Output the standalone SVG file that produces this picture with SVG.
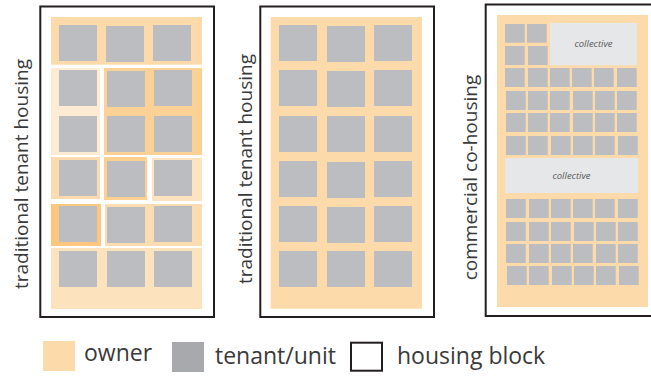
<svg xmlns="http://www.w3.org/2000/svg" width="651" height="376" viewBox="0 0 651 376">
  <style>
    .block { fill: #ffffff; stroke: #231f20; stroke-width: 2; }
    .owner { fill: #fcdaa9; }
    .unit { fill: #bcbdc0; }
    .collective { fill: #e6e7e8; }
    .label { font-family: "Open Sans", "Liberation Sans", sans-serif; font-weight: 400; fill: #3a3a3a; }
    .side { font-size: 19px; text-anchor: middle; }
    .legend { font-size: 23px; }
    .coll-text { font-family: "Open Sans", "Liberation Sans", sans-serif; font-style: italic; font-size: 9.5px; fill: #58595b; text-anchor: middle; }
  </style>

  <!-- Block 1: traditional tenant housing with owner parcels of varying shades -->
  <g id="block-traditional-1">
    <rect class="block" x="40.3" y="6.5" width="173.7" height="310.5"/>
    <rect x="51" y="17" width="151" height="47.7" fill="#fcdaa9"/>
    <rect x="51" y="68" width="49" height="87" fill="#fdebd4"/>
    <rect x="104" y="68" width="98" height="87" fill="#fcd195"/>
    <rect x="51" y="157" width="49" height="42" fill="#fcdbaf"/>
    <rect x="104" y="157" width="43" height="43" fill="#fdd08f"/>
    <rect x="152" y="158" width="50" height="43" fill="#fde3c0"/>
    <rect x="51" y="204" width="50" height="42" fill="#fdc77d"/>
    <rect x="105" y="204" width="97" height="42" fill="#fcdcb1"/>
    <rect x="51" y="248" width="151" height="61" fill="#fce2bd"/>
    <g class="unit">
      <rect x="59" y="25" width="38" height="36"/>
      <rect x="106" y="26" width="38" height="36"/>
      <rect x="153" y="25" width="38" height="36"/>
      <rect x="59" y="70" width="38" height="36"/>
      <rect x="107" y="71" width="38" height="36"/>
      <rect x="154" y="70" width="38" height="36"/>
      <rect x="59" y="116" width="38" height="36"/>
      <rect x="107" y="116" width="38" height="36"/>
      <rect x="154" y="116" width="38" height="36"/>
      <rect x="59" y="160" width="38" height="36"/>
      <rect x="107" y="161" width="38" height="36"/>
      <rect x="154" y="160" width="38" height="36"/>
      <rect x="59" y="206" width="38" height="36"/>
      <rect x="107" y="207" width="38" height="36"/>
      <rect x="154" y="206" width="38" height="36"/>
      <rect x="59" y="251" width="38" height="36"/>
      <rect x="107" y="251" width="38" height="36"/>
      <rect x="154" y="251" width="38" height="36"/>
    </g>
    <text class="label side" transform="translate(28 174) rotate(-90)">traditional tenant housing</text>
  </g>

  <!-- Block 2: traditional tenant housing with a single owner -->
  <g id="block-traditional-2">
    <rect class="block" x="260.3" y="6.5" width="173.7" height="310.5"/>
    <rect class="owner" x="270.7" y="17" width="151.3" height="291.7"/>
    <g class="unit">
      <rect x="279" y="25" width="38" height="36"/>
      <rect x="327" y="26" width="38" height="36"/>
      <rect x="374" y="25" width="38" height="36"/>
      <rect x="279" y="70" width="38" height="36"/>
      <rect x="327" y="71" width="38" height="36"/>
      <rect x="374" y="70" width="38" height="36"/>
      <rect x="279" y="116" width="38" height="36"/>
      <rect x="327" y="116" width="38" height="36"/>
      <rect x="374" y="116" width="38" height="36"/>
      <rect x="279" y="161" width="38" height="36"/>
      <rect x="327" y="162" width="38" height="36"/>
      <rect x="374" y="161" width="38" height="36"/>
      <rect x="279" y="206" width="38" height="36"/>
      <rect x="327" y="207" width="38" height="36"/>
      <rect x="374" y="206" width="38" height="36"/>
      <rect x="279" y="251" width="38" height="36"/>
      <rect x="327" y="251" width="38" height="36"/>
      <rect x="374" y="251" width="38" height="36"/>
    </g>
    <text class="label side" transform="translate(252 169) rotate(-90)">traditional tenant housing</text>
  </g>

  <!-- Block 3: commercial co-housing with small units and shared spaces -->
  <g id="block-cohousing">
    <rect class="block" x="485.7" y="4.5" width="180" height="311.5"/>
    <rect class="owner" x="497" y="15" width="151" height="292"/>
    <rect class="collective" x="550" y="23" width="87" height="42.3"/>
    <text class="coll-text" x="593.5" y="46.5">collective</text>
    <rect class="collective" x="505" y="158" width="133" height="35"/>
    <text class="coll-text" x="571.5" y="179">collective</text>
    <g class="unit">
      <rect x="505" y="24" width="19.7" height="18.7"/>
      <rect x="527" y="24" width="19.7" height="18.7"/>
      <rect x="505" y="46" width="19.7" height="19"/>
      <rect x="528" y="46" width="19.7" height="19"/>

      <rect x="505" y="68" width="19.7" height="19"/>
      <rect x="528" y="68" width="19.7" height="19"/>
      <rect x="550" y="68" width="19.7" height="19"/>
      <rect x="572" y="68" width="19.7" height="19"/>
      <rect x="594" y="68" width="19.7" height="19"/>
      <rect x="617" y="68" width="19.7" height="19"/>

      <rect x="506" y="91" width="19.7" height="19"/>
      <rect x="528" y="91" width="19.7" height="19"/>
      <rect x="550" y="91" width="19.7" height="19"/>
      <rect x="573" y="91" width="19.7" height="19"/>
      <rect x="595" y="91" width="19.7" height="19"/>
      <rect x="617" y="91" width="19.7" height="19"/>

      <rect x="506" y="113" width="19.7" height="19"/>
      <rect x="528" y="113" width="19.7" height="19"/>
      <rect x="550" y="113" width="19.7" height="19"/>
      <rect x="573" y="113" width="19.7" height="19"/>
      <rect x="595" y="113" width="19.7" height="19"/>
      <rect x="617" y="113" width="19.7" height="19"/>

      <rect x="506" y="136" width="19.7" height="19"/>
      <rect x="528" y="136" width="19.7" height="19"/>
      <rect x="551" y="136" width="19.7" height="19"/>
      <rect x="573" y="136" width="19.7" height="19"/>
      <rect x="595" y="136" width="19.7" height="19"/>
      <rect x="618" y="136" width="19.7" height="19"/>

      <rect x="506" y="199" width="19.7" height="19"/>
      <rect x="529" y="199" width="19.7" height="19"/>
      <rect x="551" y="199" width="19.7" height="19"/>
      <rect x="573" y="199" width="19.7" height="19"/>
      <rect x="595" y="199" width="19.7" height="19"/>
      <rect x="618" y="199" width="19.7" height="19"/>

      <rect x="506" y="222" width="19.7" height="19"/>
      <rect x="529" y="222" width="19.7" height="19"/>
      <rect x="551" y="222" width="19.7" height="19"/>
      <rect x="574" y="222" width="19.7" height="19"/>
      <rect x="596" y="222" width="19.7" height="19"/>
      <rect x="618" y="222" width="19.7" height="19"/>

      <rect x="506" y="244" width="19.7" height="19"/>
      <rect x="529" y="244" width="19.7" height="19"/>
      <rect x="551" y="244" width="19.7" height="19"/>
      <rect x="573" y="244" width="19.7" height="19"/>
      <rect x="596" y="244" width="19.7" height="19"/>
      <rect x="618" y="244" width="19.7" height="19"/>

      <rect x="507" y="266" width="19.7" height="19"/>
      <rect x="529" y="266" width="19.7" height="19"/>
      <rect x="552" y="266" width="19.7" height="19"/>
      <rect x="574" y="266" width="19.7" height="19"/>
      <rect x="596" y="266" width="19.7" height="19"/>
      <rect x="619" y="266" width="19.7" height="19"/>
    </g>
    <text class="label side" transform="translate(477 177.5) rotate(-90)">commercial co-housing</text>
  </g>

  <!-- Legend -->
  <g id="legend-owner">
    <rect x="43" y="341" width="32" height="30" fill="#fcdaa9"/>
    <text class="label legend" x="84" y="361">owner</text>
  </g>
  <g id="legend-unit">
    <rect x="172" y="342" width="32" height="30" fill="#a7a9ac"/>
    <text class="label legend" x="215" y="364">tenant/unit</text>
  </g>
  <g id="legend-block">
    <rect x="351" y="342.7" width="31" height="28" fill="#ffffff" stroke="#231f20" stroke-width="2"/>
    <text class="label legend" x="397" y="364">housing block</text>
  </g>
</svg>
